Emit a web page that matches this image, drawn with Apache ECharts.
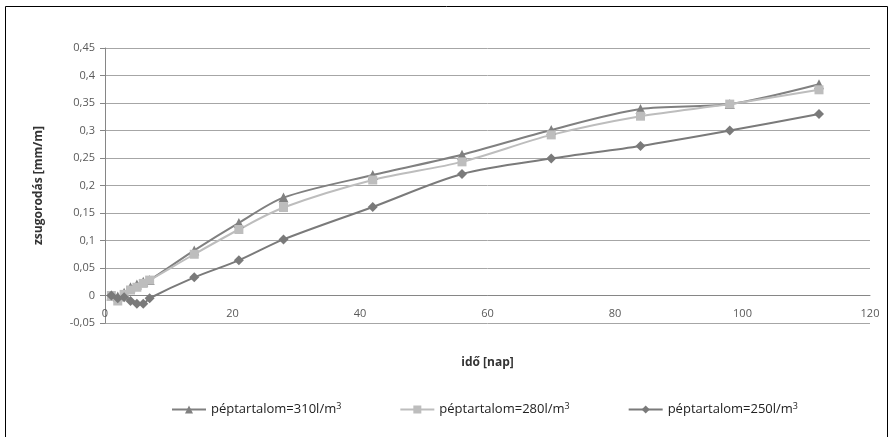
<!DOCTYPE html>
<html>
<head>
<meta charset="utf-8">
<script src="https://cdn.jsdelivr.net/npm/echarts@6/dist/echarts.min.js"></script>
<style>html,body{margin:0;padding:0;background:#fff}#c{width:893px;height:437px}</style>
</head>
<body>
<div id="c"></div>
<script>
var days = [1, 2, 3, 4, 5, 6, 7, 14, 21, 28, 42, 56, 70, 84, 98, 112];
var s310 = [0, -0.002, 0.005, 0.015, 0.02, 0.025, 0.028, 0.082, 0.132, 0.178, 0.219, 0.256, 0.301, 0.339, 0.348, 0.384];
var s280 = [0, -0.01, 0.002, 0.01, 0.015, 0.022, 0.028, 0.075, 0.12, 0.16, 0.21, 0.243, 0.292, 0.326, 0.348, 0.374];
var s250 = [0, -0.005, -0.003, -0.01, -0.015, -0.015, -0.005, 0.033, 0.064, 0.102, 0.161, 0.221, 0.249, 0.272, 0.3, 0.33];
var names = ['péptartalom=310l/m3', 'péptartalom=280l/m3', 'péptartalom=250l/m3'];
var xTicks = [0, 20, 40, 60, 80, 100, 120];
var yTicks = [-0.05, 0, 0.05, 0.1, 0.15, 0.2, 0.25, 0.3, 0.35, 0.4, 0.45];

function pairs(xs, ys) { return xs.map(function (x, i) { return [x, ys[i]]; }); }
var font = '"Open Sans", "Liberation Sans", sans-serif';
var chart = echarts.init(document.getElementById('c'), null, { renderer: 'canvas' });
function mkSeries(name, data, color, symbol, size) {
  return {
    name: name, type: 'line', data: pairs(days, data), smooth: 0.3,
    symbol: symbol, symbolSize: size, showSymbol: true,
    lineStyle: { color: color, width: 2 }, itemStyle: { color: color },
    emphasis: { disabled: true }
  };
}
chart.setOption({
  animation: false,
  graphic: [{ type: 'rect', shape: { x: 5.5, y: 6.5, width: 882, height: 440 }, style: { fill: 'none', stroke: '#000', lineWidth: 1 }, silent: true }],
  grid: { left: 105, right: 23, top: 48, bottom: 114 },
  xAxis: {
    type: 'value', min: xTicks[0], max: xTicks[xTicks.length - 1], interval: 20,
    name: 'idő [nap]', nameLocation: 'middle', nameGap: 34,
    nameTextStyle: { fontFamily: font, fontSize: 12, fontWeight: 'bold', color: '#333' },
    axisLine: { show: true, lineStyle: { color: '#868686' } },
    axisTick: { show: false },
    axisLabel: { inside: true, margin: 4, fontFamily: font, fontSize: 11, color: '#595959' },
    splitLine: { show: false }
  },
  yAxis: {
    type: 'value', min: yTicks[0], max: yTicks[yTicks.length - 1], interval: 0.05,
    name: 'zsugorodás [mm/m]', nameLocation: 'middle', nameGap: 60, nameRotate: 90,
    nameTextStyle: { fontFamily: font, fontSize: 12, fontWeight: 'bold', color: '#333' },
    axisLine: { show: true, lineStyle: { color: '#868686' } },
    axisTick: { show: true, inside: false, length: 5, lineStyle: { color: '#868686' } },
    axisLabel: {
      margin: 10, fontFamily: font, fontSize: 11, color: '#595959',
      formatter: function (v) { var r = Math.round(v * 100) / 100; return r === 0 ? '0' : String(r).replace('.', ','); }
    },
    splitLine: { show: true, lineStyle: { color: '#a6a6a6', width: 1 } }
  },
  legend: {
    bottom: 16, left: 166, itemWidth: 34, itemHeight: 10, itemGap: 58,
    data: names,
    formatter: function (n) { return '{a|' + n.slice(0, -1) + '}{s|' + n.slice(-1) + '}'; },
    textStyle: {
      fontFamily: font, fontSize: 13, color: '#222',
      rich: { a: { fontFamily: font, fontSize: 13, color: '#222' }, s: { fontFamily: font, fontSize: 9, color: '#222', verticalAlign: 'top', padding: [0, 0, 7, 0] } }
    }
  },
  series: [
    mkSeries(names[0], s310, '#808080', 'triangle', 10),
    mkSeries(names[1], s280, '#bdbdbd', 'rect', 9),
    mkSeries(names[2], s250, '#7a7a7a', 'diamond', 10)
  ]
});
</script>
</body>
</html>
